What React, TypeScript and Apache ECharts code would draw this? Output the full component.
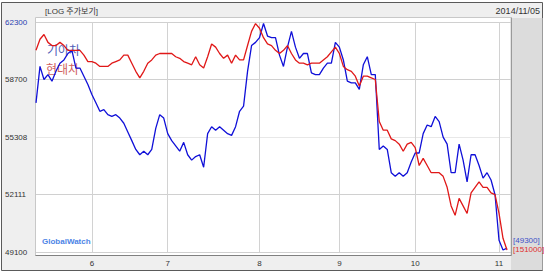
import React, { useEffect, useRef } from 'react';
import * as echarts from 'echarts';

// trading days (MM/DD), 2014-05-13 .. 2014-11-05
const dates = [
  '05/13','05/14','05/15','05/16','05/19','05/20','05/21','05/22','05/23','05/26','05/27','05/28','05/29','05/30',
  '06/02','06/03','06/05','06/09','06/10','06/11','06/12','06/13','06/16','06/17','06/18','06/19','06/20','06/23','06/24','06/25','06/26','06/27','06/30',
  '07/01','07/02','07/03','07/04','07/07','07/08','07/09','07/10','07/11','07/14','07/15','07/16','07/17','07/18','07/21','07/22','07/23','07/24','07/25','07/28','07/29','07/30','07/31',
  '08/01','08/04','08/05','08/06','08/07','08/08','08/11','08/12','08/13','08/14','08/18','08/19','08/20','08/21','08/22','08/25','08/26','08/27','08/28','08/29',
  '09/01','09/02','09/03','09/04','09/05','09/11','09/12','09/15','09/16','09/17','09/18','09/19','09/22','09/23','09/24','09/25','09/26','09/29','09/30',
  '10/01','10/02','10/06','10/07','10/08','10/10','10/13','10/14','10/15','10/16','10/17','10/20','10/21','10/22','10/23','10/24','10/27','10/28','10/29','10/30','10/31',
  '11/03','11/04','11/05',
];

// 기아차 (blue), read on the left (log) scale
const kia = [
  57300, 59500, 58700, 59000, 58600, 59200, 59700, 59900, 60300, 60500,
  59400, 59400, 58900, 58400, 57800, 57300, 56800, 56900, 56600, 56500,
  56600, 56400, 56100, 55600, 55100, 54600, 54300, 54500, 54300, 54600,
  55800, 56600, 56400, 55500, 55100, 54800, 54500, 55000, 54300, 54000,
  54200, 54300, 53600, 55500, 55900, 55700, 55900, 55700, 55500, 55400,
  55900, 56800, 57100, 59200, 60800, 61000, 61300, 62200, 61400, 61300,
  61300, 60200, 59500, 60700, 61700, 60700, 60000, 60300, 60300, 59100,
  59000, 59000, 59400, 59700, 59700, 61000, 60700, 59900, 58600, 58500,
  58500, 58100, 59600, 60100, 59000, 59000, 54600, 54800, 54600, 53300,
  53100, 53300, 53100, 53300, 53900, 54400, 54400, 55500, 56000, 55900,
  56500, 56200, 55300, 54900, 53300, 53300, 54900, 54000, 52800, 54300,
  54300, 53700, 53000, 53300, 52900, 52100, 49700, 49200, 49300,
];

// 현대차 (red), overlay read on the same left scale
const hyundai = [
  60500, 61200, 61500, 61000, 60800, 60800, 61000, 60800, 60500, 60500,
  60500, 60500, 60200, 59800, 59800, 59700, 59500, 59500, 59500, 59700,
  59800, 59900, 60200, 60200, 59700, 59200, 58800, 59200, 59700, 59900,
  60200, 60300, 60300, 60300, 60300, 60100, 60000, 59800, 59700, 59600,
  60100, 59600, 59400, 60100, 60900, 60700, 60300, 60000, 60200, 59700,
  60200, 59900, 59900, 60800, 61700, 62200, 61900, 61300, 60900, 60800,
  60500, 60300, 60500, 60800, 60300, 59900, 59700, 59700, 59600, 59700,
  59700, 59700, 59900, 60100, 60400, 60700, 60300, 59500, 59300, 59200,
  58900, 58300, 58900, 58900, 58800, 58700, 56200, 55700, 55700, 55200,
  55100, 54900, 54500, 54900, 55000, 54700, 53700, 54100, 53700, 53300,
  53300, 53300, 53100, 52500, 51500, 51000, 51900, 51500, 51100, 52200,
  52500, 52800, 52500, 52500, 52200, 52100, 51100, 49800, 49200,
];

const yTickLabels = ['49100', '52111', '55308', '58700', '62300'];
const seriesNames = ['기아차', '현대차'];
const endLabels = ['49300', '151000'];
const titleText = '[LOG 주가보기]';
const asOfText = '2014/11/05';
const watermark = 'GlobalWatch';

const LO = Math.log(Number(yTickLabels[0]));
const HI = Math.log(Number(yTickLabels[yTickLabels.length - 1]));
const STEPS = yTickLabels.length - 1;
const toLog = (v: number) => ((Math.log(v) - LO) / (HI - LO)) * STEPS;

const isMonthStart = (i: number) =>
  i > 0 && i < dates.length && dates[i].slice(0, 2) !== dates[i - 1].slice(0, 2);

const FONT = '"Liberation Sans", Arial, "Noto Sans CJK KR", sans-serif';
const BLUE = '#1010d8';
const RED = '#e01818';

export default function App() {
  const ref = useRef<HTMLDivElement>(null);
  useEffect(() => {
    const chart = echarts.init(ref.current!, null, { renderer: 'svg' });
    chart.setOption({
      animation: false,
      backgroundColor: '#ffffff',
      textStyle: { fontFamily: FONT },
      grid: { left: 36, right: 34, top: 22, bottom: 22 },
      xAxis: {
        type: 'category',
        data: dates,
        boundaryGap: false,
        max: dates.length,
        axisLine: { show: false },
        axisTick: { show: false },
        axisLabel: {
          interval: (i: number) => isMonthStart(i),
          formatter: (v: string) => (v ? String(parseInt(v.slice(0, 2), 10)) : ''),
          fontSize: 8,
          color: '#333',
          margin: 7,
          fontFamily: FONT,
        },
        splitLine: {
          show: true,
          interval: (i: number) => isMonthStart(i),
          lineStyle: { color: '#d2d2d2', width: 1 },
        },
      },
      yAxis: {
        type: 'value',
        min: 0,
        max: STEPS,
        interval: 1,
        axisLine: { show: false },
        axisTick: { show: false },
        axisLabel: {
          formatter: (v: number) => yTickLabels[Math.round(v)] ?? '',
          align: 'left',
          margin: 31,
          fontSize: 8,
          padding: [0, 0, 6, 0],
          fontFamily: FONT,
          color: (v: any) => (Math.round(Number(v)) === STEPS ? '#2a40b0' : '#333'),
        },
        splitLine: {
          show: true,
          lineStyle: { color: ['#d0d0d0', '#d0d0d0', '#e8e8e8', '#d0d0d0', '#d0d0d0'], width: 1 },
        },
      },
      series: [
        {
          name: seriesNames[0],
          type: 'line',
          data: kia.map(toLog),
          showSymbol: false,
          lineStyle: { color: BLUE, width: 1.3 },
          itemStyle: { color: BLUE },
          z: 3,
          endLabel: {
            show: true,
            formatter: () => `[${endLabels[0]}]`,
            color: '#4050c8',
            fontSize: 8,
            distance: 6,
            offset: [0, -8],
            fontFamily: FONT,
          },
        },
        {
          name: seriesNames[1],
          type: 'line',
          data: hyundai.map(toLog),
          showSymbol: false,
          lineStyle: { color: RED, width: 1.3 },
          itemStyle: { color: RED },
          z: 4,
          endLabel: {
            show: true,
            formatter: () => `[${endLabels[1]}]`,
            color: '#e03030',
            fontSize: 8,
            distance: 6,
            offset: [0, -1],
            fontFamily: FONT,
          },
        },
      ],
      graphic: [
        { type: 'rect', z: -20, shape: { x: 1.5, y: 2.5, width: 541, height: 268 }, style: { fill: '#efefef', stroke: '#5a5a5a', lineWidth: 1 } },
        { type: 'rect', z: -19, shape: { x: 511, y: 18, width: 31.5, height: 252 }, style: { fill: '#dcdcdc' } },
        { type: 'rect', z: -18, shape: { x: 35.5, y: 17.5, width: 475.5, height: 238 }, style: { fill: '#ffffff', stroke: '#c8c8c8', lineWidth: 1 } },
        { type: 'line', z: 10, shape: { x1: 35.5, y1: 255.5, x2: 511.5, y2: 255.5 }, style: { stroke: '#808080', lineWidth: 1 } },
        { type: 'line', z: 10, shape: { x1: 511.5, y1: 17.5, x2: 511.5, y2: 255.5 }, style: { stroke: '#9a9a9a', lineWidth: 1 } },
        { type: 'text', z: 10, x: 45, y: 11.5, style: { text: titleText, fontSize: 8, fill: '#333', fontFamily: FONT, verticalAlign: 'middle' } },
        { type: 'text', z: 10, x: 540, y: 11, style: { text: asOfText, fontSize: 9, fill: '#333', fontFamily: FONT, align: 'right', verticalAlign: 'middle' } },
        { type: 'text', z: 1, x: 47, y: 49, style: { text: seriesNames[0], fontSize: 12, fill: '#5060b8', fontFamily: '"Noto Sans CJK KR", sans-serif', verticalAlign: 'middle' } },
        { type: 'text', z: 1, x: 46, y: 68, style: { text: seriesNames[1], fontSize: 12, fill: '#d06060', fontFamily: '"Noto Sans CJK KR", sans-serif', verticalAlign: 'middle' } },
        { type: 'text', z: 1, x: 42, y: 241, style: { text: watermark, fontSize: 8, fontWeight: 'bold', fill: '#4c84e6', fontFamily: FONT, verticalAlign: 'middle' } },
      ],
    });
    return () => chart.dispose();
  }, []);
  return <div ref={ref} style={{ position: 'absolute', left: 0, top: 0, width: 545, height: 274 }} />;
}
